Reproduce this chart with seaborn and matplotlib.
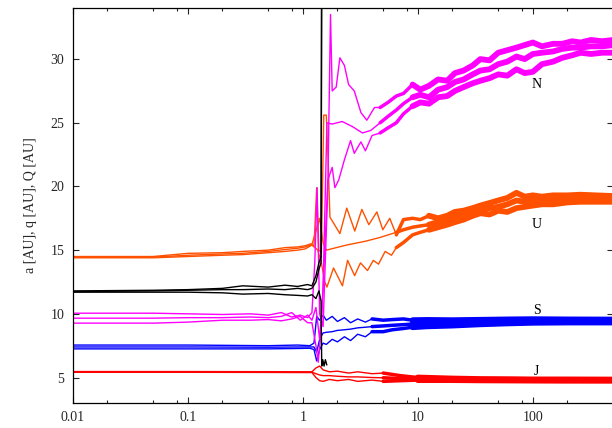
import matplotlib
matplotlib.use("Agg")
import matplotlib.pyplot as plt
from matplotlib.ticker import LogLocator, FixedLocator, NullFormatter, FixedFormatter
import seaborn as sns

# ---- data (time in Myr, distances in AU) ----
# early (thin) part of each curve, then the late noisy part drawn thick

# Jupiter
t_J = [0.01, 0.1, 0.5, 1.0, 1.2, 1.3, 1.4, 1.5, 1.7, 2.0, 2.5, 3.0, 4.0, 5.0]
J_Q = [5.47, 5.47, 5.46, 5.45, 5.45, 5.75, 5.9, 5.6, 5.45, 5.5, 5.35, 5.45, 5.3, 5.35]
J_a = [5.44, 5.44, 5.43, 5.42, 5.42, 5.3, 5.2, 5.15, 5.15, 5.1, 5.05, 5.05, 5.0, 4.98]
J_q = [5.41, 5.41, 5.40, 5.39, 5.39, 5.0, 4.75, 4.7, 4.85, 4.75, 4.85, 4.7, 4.8, 4.7]
tl_J = [5.0, 7, 10, 20, 35, 60, 100, 200, 500]
JQ_l = [5.35, 5.15, 5.0, 4.92, 4.88, 4.87, 4.85, 4.85, 4.84]
Ja_l = [4.98, 4.92, 4.88, 4.84, 4.82, 4.81, 4.8, 4.8, 4.79]
Jq_l = [4.7, 4.75, 4.8, 4.8, 4.78, 4.77, 4.76, 4.75, 4.75]

# Saturn
t_S = [0.01, 0.1, 0.5, 0.9, 1.15, 1.25, 1.32, 1.4, 1.5, 1.6, 1.8, 2.0, 2.3, 2.6, 3.0, 3.5, 4.0]
S_Q = [7.55, 7.55, 7.5, 7.55, 7.5, 7.7, 9.8, 9.5, 9.9, 9.5, 9.8, 9.4, 9.7, 9.3, 9.6, 9.35, 9.6]
S_a = [7.4, 7.4, 7.38, 7.4, 7.4, 7.4, 7.0, 8.0, 8.5, 8.55, 8.6, 8.7, 8.75, 8.8, 8.9, 8.95, 9.0]
S_q = [7.25, 7.25, 7.25, 7.28, 7.3, 7.2, 6.3, 7.2, 7.7, 7.6, 8.0, 7.8, 8.2, 7.9, 8.4, 8.2, 8.6]
tl_S = [4.0, 5.0, 6.0, 7.5, 9, 12, 20, 35, 60, 100, 200, 500]
SQ_l = [9.6, 9.5, 9.55, 9.6, 9.5, 9.52, 9.5, 9.53, 9.56, 9.58, 9.56, 9.55]
Sa_l = [9.0, 9.05, 9.1, 9.15, 9.2, 9.22, 9.28, 9.32, 9.38, 9.42, 9.42, 9.42]
Sq_l = [8.6, 8.6, 8.75, 8.85, 8.95, 9.02, 9.08, 9.18, 9.25, 9.3, 9.32, 9.32]

# ejected planet
t_X = [0.01, 0.05, 0.1, 0.2, 0.3, 0.5, 0.7, 0.9, 1.1, 1.2, 1.3, 1.38, 1.44, 1.46]
X_Q = [11.8, 11.85, 11.9, 12.0, 12.2, 12.1, 12.25, 12.15, 12.3, 12.2, 13.0, 14.0, 14.5, 40.0]
X_a = [11.75, 11.8, 11.85, 11.9, 11.9, 11.95, 11.9, 12.0, 11.9, 12.0, 12.5, 13.5, 14.0, 40.0]
t_Xq = [0.01, 0.05, 0.1, 0.2, 0.3, 0.5, 0.7, 0.9, 1.1, 1.2, 1.3, 1.38, 1.44, 1.46, 1.49, 1.53, 1.57, 1.62]
X_q = [11.7, 11.7, 11.7, 11.65, 11.55, 11.6, 11.5, 11.45, 11.4, 11.5, 11.2, 11.8, 11.0, 5.9, 6.4, 5.9, 6.4, 5.95]

# Uranus
t_UQ = [0.01, 0.05, 0.1, 0.2, 0.3, 0.5, 0.7, 0.9, 1.05, 1.18, 1.25, 1.32, 1.38, 1.45,
        1.52, 1.6, 1.66, 1.72, 2.1, 2.41, 2.83, 3.26, 3.75, 4.4, 4.96, 5.7, 6.5]
U_Q = [14.5, 14.5, 14.75, 14.8, 14.9, 15.0, 15.2, 15.25, 15.35, 15.5, 15.3, 19.9, 15.0, 14.8,
       25.6, 25.6, 22.0, 17.6, 16.3, 18.3, 16.5, 18.2, 17.0, 18.0, 16.6, 17.5, 16.2]
t_Ua = [0.01, 0.05, 0.1, 0.2, 0.3, 0.5, 0.7, 0.9, 1.05, 1.2, 1.3, 1.4, 1.5, 1.6,
        2.4, 3.5, 4.7, 6.5]
U_a = [14.45, 14.45, 14.6, 14.7, 14.75, 14.9, 15.05, 15.15, 15.25, 15.45, 16.5, 17.5, 15.6, 15.0,
       15.4, 15.7, 16.0, 16.4]
t_Uq = [0.01, 0.05, 0.1, 0.2, 0.3, 0.5, 0.7, 0.9, 1.05, 1.2, 1.35, 1.45, 1.55, 1.62,
        1.85, 2.21, 2.45, 2.82, 3.17, 3.65, 4.1, 4.55, 5.2, 5.9, 6.5]
U_q = [14.4, 14.4, 14.5, 14.6, 14.65, 14.8, 14.9, 15.0, 15.1, 15.4, 15.0, 14.0, 12.5, 12.1,
       13.6, 12.2, 14.2, 13.0, 14.0, 13.4, 14.2, 13.9, 14.9, 14.6, 15.2]
tl_U = [6.5, 7.5, 9, 10.5, 12.5, 15, 18, 21, 25, 30, 35, 42, 50, 60, 72, 85, 100,
        120, 150, 200, 260, 350, 500]
UQ_l = [16.2, 17.4, 17.5, 17.4, 17.7, 17.5, 17.7, 18.0, 18.1, 18.3, 18.5, 18.7, 18.9, 19.1,
        19.5, 19.2, 19.3, 19.2, 19.3, 19.3, 19.35, 19.3, 19.25]
Ua_l = [16.4, 16.6, 16.8, 16.9, 17.0, 17.2, 17.3, 17.6, 17.7, 17.9, 18.1, 18.3, 18.4, 18.6,
        18.9, 18.8, 18.9, 18.9, 19.0, 19.0, 19.05, 19.0, 19.0]
Uq_l = [15.2, 15.6, 16.2, 16.4, 16.6, 16.8, 17.0, 17.2, 17.4, 17.7, 17.9, 17.8, 18.1, 18.0,
        18.3, 18.4, 18.5, 18.6, 18.6, 18.75, 18.8, 18.8, 18.8]

# Neptune
t_NQ = [0.01, 0.05, 0.1, 0.2, 0.35, 0.5, 0.65, 0.8, 0.95, 1.1, 1.2, 1.27, 1.33, 1.4, 1.5, 1.65,
        1.74, 1.8, 1.95, 2.1, 2.3, 2.5, 2.8, 3.2, 3.6, 4.2, 4.7]
N_Q = [10.05, 10.05, 10.0, 9.95, 10.0, 9.9, 10.1, 9.75, 9.9, 9.7, 10.1, 14.0, 19.9, 10.0, 9.0, 20.0,
       33.5, 27.5, 27.8, 30.1, 29.5, 28.0, 27.5, 25.8, 25.2, 26.2, 26.2]
t_Na = [0.01, 0.05, 0.1, 0.2, 0.35, 0.5, 0.65, 0.8, 0.95, 1.1, 1.2, 1.3, 1.4, 1.5, 1.62,
        1.8, 2.2, 2.7, 3.3, 3.9, 4.7]
N_a = [9.66, 9.66, 9.7, 9.7, 9.75, 9.7, 9.8, 10.1, 9.5, 9.9, 9.5, 10.5, 8.0, 12.0, 25.0,
       24.9, 25.1, 24.7, 24.2, 24.4, 25.0]
t_Nq = [0.01, 0.05, 0.1, 0.2, 0.35, 0.5, 0.65, 0.8, 0.95, 1.1, 1.2, 1.3, 1.36, 1.45, 1.55, 1.65,
        1.8, 1.9, 2.05, 2.3, 2.6, 2.8, 3.2, 3.5, 4.0, 4.7]
N_q = [9.27, 9.27, 9.35, 9.5, 9.5, 9.55, 9.45, 9.6, 9.8, 9.3, 9.3, 7.5, 6.2, 9.0, 15.0, 20.5,
       21.5, 19.9, 20.5, 22.1, 23.6, 22.6, 23.5, 22.8, 24.0, 24.2]
tl_N = [4.7, 5.5, 6.5, 7.5, 9, 10.5, 12.5, 15, 18, 21, 25, 30, 35, 42, 50, 60, 72, 85,
        100, 120, 150, 180, 220, 260, 320, 400, 500]
NQ_l = [26.2, 26.6, 27.1, 27.3, 28.0, 27.6, 27.9, 28.4, 28.3, 28.9, 29.1, 29.5, 30.0, 29.9,
        30.5, 30.7, 30.9, 31.1, 31.3, 31.0, 31.2, 31.2, 31.4, 31.3, 31.5, 31.4, 31.5]
Na_l = [25.0, 25.5, 26.0, 26.5, 27.0, 27.2, 27.0, 27.6, 27.8, 28.2, 28.4, 28.8, 29.1, 29.2,
        29.6, 29.8, 30.2, 30.0, 30.4, 30.5, 30.6, 30.8, 30.9, 30.9, 31.0, 31.0, 31.1]
Nq_l = [24.2, 24.6, 25.0, 25.7, 26.3, 26.6, 26.5, 27.0, 27.1, 27.5, 27.8, 28.1, 28.3, 28.5,
        28.8, 28.7, 29.2, 28.9, 29.0, 29.6, 29.8, 30.1, 30.3, 30.5, 30.4, 30.5, 30.5]

# index where the noisy band becomes fully thick, per planet (J, S, U, N)
split = [2, 4, 4, 4]

labels = ["J", "S", "U", "N"]
label_y = [5.45, 10.3, 17.0, 28.0]
label_t = 108

col_J = "#ff0000"
col_S = "#0000ff"
col_U = "#ff5000"
col_N = "#ff00ff"
col_X = "#000000"

sns.set_theme(style="ticks")
plt.rcParams["font.family"] = ["Liberation Serif", "DejaVu Serif"]

fig = plt.figure(figsize=(6.12, 4.28), dpi=100)
ax = fig.add_axes([0.119, 0.0584, 0.883, 0.9226])

lw = 1.0
lw_mid = 2.5
lw_late = 4.2

def draw(t, v, c, w=lw, cap="butt"):
    sns.lineplot(x=t, y=v, ax=ax, color=c, linewidth=w, estimator=None, sort=False,
                 legend=False, solid_capstyle=cap)

planets = [
    (col_J, [(t_J, J_Q), (t_J, J_a), (t_J, J_q)], [(tl_J, JQ_l), (tl_J, Ja_l), (tl_J, Jq_l)]),
    (col_S, [(t_S, S_Q), (t_S, S_a), (t_S, S_q)], [(tl_S, SQ_l), (tl_S, Sa_l), (tl_S, Sq_l)]),
    (col_U, [(t_UQ, U_Q), (t_Ua, U_a), (t_Uq, U_q)], [(tl_U, UQ_l), (tl_U, Ua_l), (tl_U, Uq_l)]),
    (col_N, [(t_NQ, N_Q), (t_Na, N_a), (t_Nq, N_q)], [(tl_N, NQ_l), (tl_N, Na_l), (tl_N, Nq_l)]),
]
for (c, early, late), k in zip(planets, split):
    for t, v in late:
        draw(t[:k + 1], v[:k + 1], c, lw_mid, "round")
        draw(t[k:], v[k:], c, lw_late, "round")
    for t, v in early:
        draw(t, v, c)

# ejected planet
draw(t_X, X_Q, col_X)
draw(t_X, X_a, col_X)
draw(t_Xq, X_q, col_X)

for lab, yy in zip(labels, label_y):
    ax.text(label_t, yy, lab, ha="center", va="center", fontsize=10, color="black")

ax.set_xscale("log")
ax.set_xlim(0.01, 500)
ax.set_ylim(3, 34)
ax.xaxis.set_minor_locator(LogLocator(base=10, subs=[2, 5, 8], numticks=20))
ax.xaxis.set_minor_formatter(NullFormatter())
xt = [0.01, 0.1, 1, 10, 100]
ax.xaxis.set_major_locator(FixedLocator(xt))
ax.xaxis.set_major_formatter(FixedFormatter(["0.01", "0.1", "1", "10", "100"]))
ax.set_yticks([5, 10, 15, 20, 25, 30])
ax.set_xlabel("")
ax.set_ylabel("a [AU], q [AU], Q [AU]", fontsize=10, labelpad=10)

ax.tick_params(which="both", direction="in", top=True, right=True, labelsize=10, width=0.8)
ax.tick_params(which="major", length=4.5, pad=6)
ax.tick_params(which="minor", length=2.5)
for s in ax.spines.values():
    s.set_linewidth(0.9)
    s.set_color("black")

fig.savefig("out.png", dpi=100)
